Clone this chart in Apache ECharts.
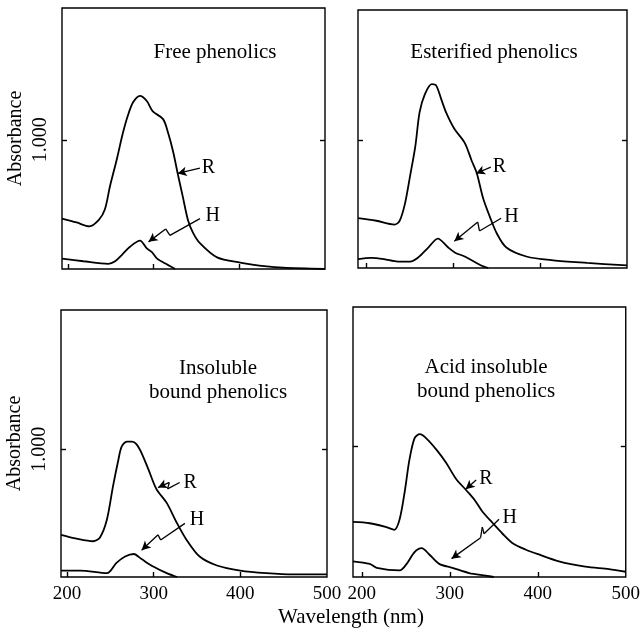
<!DOCTYPE html>
<html>
<head>
<meta charset="utf-8">
<script src="https://cdn.jsdelivr.net/npm/echarts@6/dist/echarts.min.js"></script>
<style>
  html, body { margin: 0; padding: 0; background: #fff; }
  #chart { width: 643px; height: 637px; }
</style>
</head>
<body>
<div id="chart"></div>
<script>
// Panel titles (one or two lines)
const panelTitles = [
  ['Free phenolics'],
  ['Esterified phenolics'],
  ['Insoluble', 'bound phenolics'],
  ['Acid insoluble', 'bound phenolics'],
]

const xTickLabels = [200, 300, 400, 500]
const xTickMarks = [200, 300, 400]
const yTickMarks = [1]

// UV spectra: [wavelength (nm), absorbance]
const freeR = [[193, 0.39], [210, 0.36], [225, 0.33], [236, 0.38], [243, 0.46], [249, 0.64], [257, 0.85], [264, 1.05], [270, 1.19], [276, 1.29], [284, 1.34], [292, 1.30], [299, 1.22], [311, 1.16], [317, 1.05], [323, 0.90], [328, 0.74], [334, 0.56], [340, 0.38], [346, 0.28], [354, 0.20], [374, 0.09], [401, 0.05], [432, 0.02], [451, 0.01], [500, 0.0]]
const freeH = [[193, 0.08], [218, 0.06], [247, 0.04], [255, 0.06], [263, 0.11], [272, 0.17], [284, 0.22], [292, 0.16], [298, 0.13], [304, 0.08], [317, 0.03], [325, 0]]

const esterR = [[190, 0.39], [211, 0.37], [232, 0.34], [238, 0.37], [244, 0.50], [250, 0.72], [256, 0.95], [261, 1.22], [267, 1.36], [275, 1.44], [280, 1.43], [286, 1.32], [292, 1.21], [301, 1.09], [313, 0.98], [321, 0.84], [327, 0.74], [334, 0.55], [342, 0.40], [350, 0.27], [361, 0.16], [384, 0.09], [415, 0.06], [454, 0.04], [500, 0.02]]
const esterH = [[190, 0.07], [205, 0.08], [220, 0.07], [236, 0.05], [250, 0.05], [259, 0.08], [271, 0.16], [282, 0.23], [294, 0.16], [302, 0.12], [313, 0.09], [332, 0.02], [340, 0]]

const insolR = [[193, 0.33], [211, 0.30], [230, 0.28], [238, 0.31], [246, 0.45], [253, 0.71], [259, 0.91], [263, 1.02], [269, 1.06], [275, 1.06], [280, 1.04], [286, 0.97], [294, 0.84], [303, 0.69], [315, 0.58], [327, 0.42], [338, 0.29], [353, 0.16], [373, 0.09], [400, 0.05], [430, 0.03], [461, 0.02], [500, 0.02]]
const insolH = [[193, 0.05], [215, 0.05], [246, 0.03], [257, 0.11], [267, 0.16], [277, 0.18], [286, 0.14], [300, 0.08], [315, 0.03], [327, 0]]

const acidR = [[190, 0.42], [209, 0.41], [228, 0.38], [237, 0.36], [243, 0.44], [249, 0.66], [254, 0.89], [260, 1.06], [266, 1.09], [273, 1.06], [285, 0.97], [296, 0.87], [307, 0.75], [319, 0.66], [328, 0.59], [337, 0.50], [349, 0.41], [360, 0.33], [371, 0.26], [386, 0.21], [402, 0.17], [424, 0.12], [454, 0.08], [481, 0.06], [500, 0.04]]
const acidH = [[190, 0.12], [209, 0.10], [217, 0.07], [243, 0.05], [251, 0.10], [260, 0.19], [268, 0.22], [277, 0.17], [288, 0.10], [303, 0.07], [322, 0.03], [341, 0.01], [350, 0]]

// "R" / "H" callouts: label spot and arrow path, in data units
const labelR = [[364, 0.78], [353, 0.79], [342, 0.74], [341, 0.75]]
const labelH = [[369, 0.41], [367, 0.40], [350, 0.45], [368, 0.45]]
const arrowR = [
  [[354, 0.78], [328, 0.74]],
  [[343, 0.79], [326, 0.74]],
  [[330, 0.74], [316, 0.69], [318, 0.74], [305, 0.70]],
  [[330, 0.74], [318, 0.67]],
]
const arrowH = [
  [[354, 0.39], [319, 0.26], [314, 0.31], [294, 0.21]],
  [[355, 0.39], [330, 0.29], [328, 0.36], [301, 0.21]],
  [[336, 0.42], [308, 0.29], [305, 0.33], [286, 0.21]],
  [[356, 0.44], [339, 0.33], [337, 0.38], [335, 0.30], [302, 0.14]],
]

const spectraR = [freeR, esterR, insolR, acidR]
const spectraH = [freeH, esterH, insolH, acidH]

// panel boxes (pixels) and axis ranges
const grids = [
  { left: 62, top: 8, width: 263, height: 261 },
  { left: 358, top: 10, width: 269, height: 258 },
  { left: 61, top: 310, width: 266, height: 267 },
  { left: 353, top: 307, width: 274, height: 270 },
]
const xMins = [193, 190, 193, 190]
const yMaxs = [2.02, 2.02, 2.09, 2.06]

const ink = '#000'
const serif = '"Liberation Serif", "DejaVu Serif", serif'

const chart = echarts.init(document.getElementById('chart'))

// turns a path of points into markLine segments, arrowhead on the last one
const arrowLines = path => path.slice(1).map((p, i) => [
  { coord: path[i], symbol: 'none' },
  { coord: p, symbol: i === path.length - 2 ? 'arrow' : 'none' },
])

const xAxes = []
const yAxes = []
const series = []

grids.forEach((g, i) => {
  const isBottom = i >= 2
  const isLeft = i % 2 === 0

  xAxes.push({
    type: 'value',
    gridIndex: i,
    min: xMins[i],
    max: 500,
    axisLine: { show: false },
    splitLine: { show: false },
    axisTick: { inside: true, length: 5, customValues: xTickMarks, lineStyle: { color: ink, width: 1.4 } },
    axisLabel: {
      show: isBottom,
      customValues: xTickLabels,
      color: ink,
      fontFamily: serif,
      fontSize: 19,
      margin: 8,
    },
  })

  // left axis
  yAxes.push({
    type: 'value',
    gridIndex: i,
    min: 0,
    max: yMaxs[i],
    position: 'left',
    axisLine: { show: false },
    splitLine: { show: false },
    axisTick: { inside: true, length: 5, customValues: yTickMarks, lineStyle: { color: ink, width: 1.4 } },
    axisLabel: {
      show: isLeft,
      customValues: yTickMarks,
      formatter: v => v.toFixed(3),
      rotate: 90,
      margin: 11,
      color: ink,
      fontFamily: serif,
      fontSize: 20,
    },
    name: isLeft ? 'Absorbance' : '',
    nameLocation: 'middle',
    nameRotate: 90,
    nameGap: 36,
    nameTextStyle: { color: ink, fontFamily: serif, fontSize: 20 },
  })
  // right axis: only the inward tick at 1.000
  yAxes.push({
    type: 'value',
    gridIndex: i,
    min: 0,
    max: yMaxs[i],
    position: 'right',
    axisLine: { show: false },
    splitLine: { show: false },
    axisLabel: { show: false },
    axisTick: { inside: true, length: 5, customValues: yTickMarks, lineStyle: { color: ink, width: 1.4 } },
  })

  const lineStyle = { color: ink, width: 1.8 }

  series.push({
    type: 'line',
    xAxisIndex: i,
    yAxisIndex: i * 2,
    data: spectraR[i],
    showSymbol: false,
    smooth: 0.3,
    lineStyle,
    silent: true,
    markLine: {
      silent: true,
      symbolSize: [7, 9],
      label: { show: false },
      lineStyle: { color: ink, width: 1.3, type: 'solid' },
      data: [...arrowLines(arrowR[i]), ...arrowLines(arrowH[i])],
    },
    markPoint: {
      silent: true,
      symbol: 'circle',
      symbolSize: 1,
      itemStyle: { color: 'rgba(0,0,0,0)' },
      label: {
        show: true,
        position: 'inside',
        formatter: p => p.name,
        color: ink,
        fontFamily: serif,
        fontSize: 20,
      },
      data: [
        { name: 'R', coord: labelR[i] },
        { name: 'H', coord: labelH[i] },
      ],
    },
  })

  series.push({
    type: 'line',
    xAxisIndex: i,
    yAxisIndex: i * 2,
    data: spectraH[i],
    showSymbol: false,
    smooth: 0.3,
    lineStyle,
    silent: true,
  })
})

// panel titles
const titlePos = [[215, 52], [494, 52], [218, 368], [486, 367]]
const graphics = []
panelTitles.forEach((lines, i) => {
  lines.forEach((t, j) => {
    graphics.push({
      type: 'text',
      x: titlePos[i][0],
      y: titlePos[i][1] + j * 24,
      style: {
        text: t,
        fill: ink,
        font: '21px ' + serif,
        align: 'center',
        verticalAlign: 'middle',
      },
    })
  })
})
graphics.push({
  type: 'text',
  x: 351,
  y: 617,
  style: {
    text: 'Wavelength (nm)',
    fill: ink,
    font: '21px ' + serif,
    align: 'center',
    verticalAlign: 'middle',
  },
})

const option = {
  backgroundColor: '#fff',
  animation: false,
  grid: grids.map(g => ({ ...g, show: true, borderColor: ink, borderWidth: 1.4, backgroundColor: 'transparent' })),
  xAxis: xAxes,
  yAxis: yAxes,
  series,
  graphic: graphics,
}

chart.setOption(option)
</script>
</body>
</html>
